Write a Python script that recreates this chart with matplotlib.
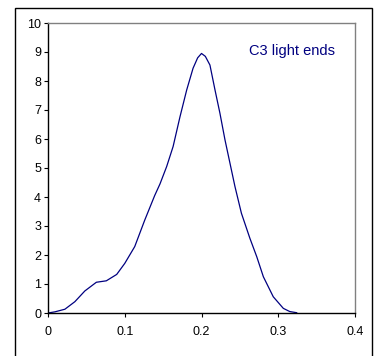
import matplotlib
matplotlib.use('Agg')
import matplotlib.pyplot as plt
from matplotlib.patches import Rectangle

plt.rcParams['font.family'] = ['Liberation Sans', 'DejaVu Sans']

# distribution
x = [0.0, 0.009, 0.022, 0.035, 0.048, 0.063, 0.076, 0.0895, 0.100, 0.113,
     0.126, 0.139, 0.1459, 0.1546, 0.163, 0.172, 0.1807, 0.189, 0.195,
     0.200, 0.205, 0.211, 0.2176, 0.224, 0.2306, 0.239, 0.2436, 0.252,
     0.263, 0.272, 0.2806, 0.2935, 0.3066, 0.315, 0.324]
y = [0.0, 0.04, 0.13, 0.39, 0.76, 1.06, 1.11, 1.33, 1.71, 2.29,
     3.2, 4.05, 4.45, 5.05, 5.74, 6.77, 7.69, 8.44, 8.8,
     8.95, 8.85, 8.55, 7.69, 6.89, 5.97, 4.93, 4.36, 3.44,
     2.58, 1.94, 1.25, 0.56, 0.16, 0.05, 0.01]

series_label = 'C3 light ends'
xticks = [0, 0.1, 0.2, 0.3, 0.4]
xtick_labels = ['0', '0.1', '0.2', '0.3', '0.4']
yticks = list(range(0, 11))

W, H = 379, 356
fig = plt.figure(figsize=(W / 100, H / 100), dpi=100)

# outer chart border, runs off the bottom of the picture
fig.patches.append(Rectangle((15 / W, -0.05), (372 - 15) / W, 1.05 - 8 / H,
                             transform=fig.transFigure, fill=False,
                             edgecolor='black', linewidth=1.0))

ax = fig.add_axes([48 / W, 1 - 313 / H, (355 - 48) / W, (313 - 23) / H])
ax.plot(x, y, color='#000080', linewidth=0.9)

ax.set_xlim(0, 0.4)
ax.set_ylim(0, 10)
ax.set_xticks(xticks)
ax.set_xticklabels(xtick_labels)
ax.set_yticks(yticks)

for side in ['left', 'bottom']:
    ax.spines[side].set_color('black')
    ax.spines[side].set_linewidth(1.0)
for side in ['top', 'right']:
    ax.spines[side].set_color('#808080')
    ax.spines[side].set_linewidth(1.0)

ax.tick_params(axis='x', direction='out', length=3, width=0.8, pad=6.5, labelsize=9)
ax.tick_params(axis='y', direction='out', length=3, width=0.8, pad=2, labelsize=9)

ax.text(0.795, 0.891, series_label, transform=ax.transAxes, color='#000080',
        fontsize=10.5, ha='center', va='baseline')

fig.savefig('out.png', dpi=100)
